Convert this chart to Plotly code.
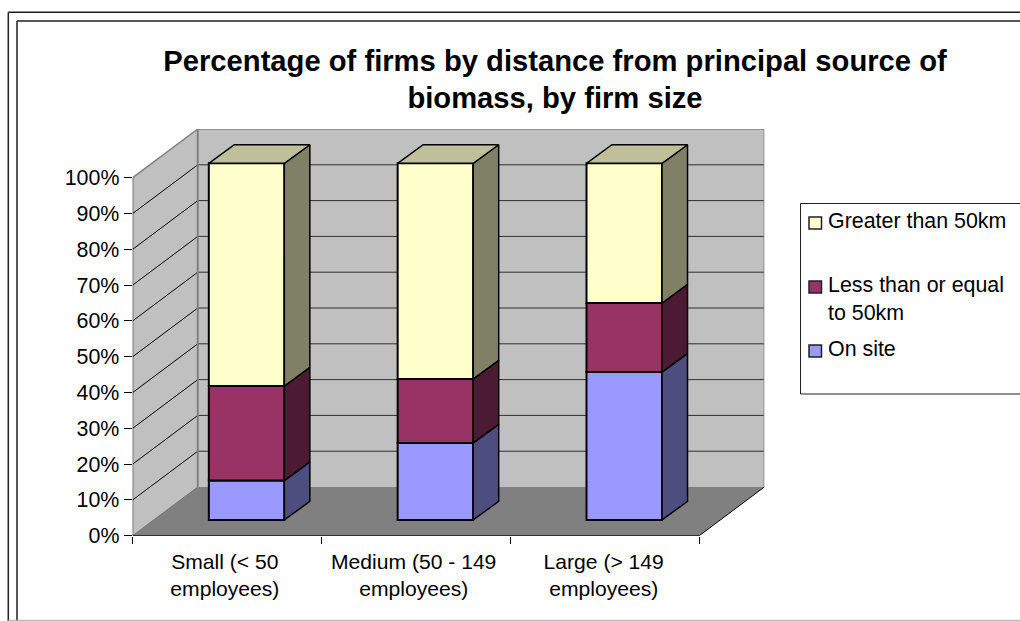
import plotly.graph_objects as go

# ---- data ----
categories = ["Small (< 50<br>employees)", "Medium (50 - 149<br>employees)", "Large (> 149<br>employees)"]
on_site = [11.0, 21.5, 41.3]
within_50km = [26.4, 17.9, 19.3]
beyond_50km = [62.2, 60.2, 39.0]
series_names = ["On site", "Less than or equal<br>to 50km", "Greater than 50km"]
y_ticks = [0, 10, 20, 30, 40, 50, 60, 70, 80, 90, 100]
y_labels = ["0%", "10%", "20%", "30%", "40%", "50%", "60%", "70%", "80%", "90%", "100%"]
title_text = "Percentage of firms by distance from principal source of<br>biomass, by firm size"

# ---- style ----
W, H = 1020, 621
FONT = "Liberation Sans"
front = ["#9999FF", "#993366", "#FFFFCC"]
side = ["#4D4D80", "#4D1A33", "#808066"]
top_col = "#BFBF99"
wall = "#C0C0C0"
floor = "#808080"
WALL_DX, WALL_DY = 0.3445, 13.6   # depth of the box, in axis units
BAR_DX, BAR_DY = 0.135, 5.2       # depth of a column
BAR_OX, BAR_OY = 0.103, 4.4       # column inset from the front edge
BAR_W = 0.4
XL, XR = -0.5, 2.5

xs = [i + BAR_OX for i in range(len(categories))]
fig = go.Figure()

# side faces, top faces
stack = [on_site, within_50km, beyond_50km]
bases = [[BAR_OY] * 3]
for s in stack:
    bases.append([b + v for b, v in zip(bases[-1], s)])

for k, s in enumerate(stack):
    for i, v in enumerate(s):
        xr = xs[i] + BAR_W / 2
        b = bases[k][i]
        fig.add_trace(go.Scatter(
            x=[xr, xr + BAR_DX, xr + BAR_DX, xr, xr],
            y=[b, b + BAR_DY, b + v + BAR_DY, b + v, b],
            mode="lines", fill="toself", fillcolor=side[k],
            line=dict(color="black", width=1.5), hoverinfo="skip", showlegend=False))
for i in range(3):
    xl, xr = xs[i] - BAR_W / 2, xs[i] + BAR_W / 2
    t = bases[3][i]
    fig.add_trace(go.Scatter(
        x=[xl, xr, xr + BAR_DX, xl + BAR_DX, xl],
        y=[t, t, t + BAR_DY, t + BAR_DY, t],
        mode="lines", fill="toself", fillcolor=top_col,
        line=dict(color="black", width=1.5), hoverinfo="skip", showlegend=False))

# front faces
for k, s in enumerate(stack):
    fig.add_trace(go.Bar(x=xs, y=s, base=bases[k], width=BAR_W, name=series_names[k],
                         marker=dict(color=front[k], line=dict(color="black", width=2)),
                         showlegend=False))

shapes = []
def poly(px, py, fill=None, color=None, width=1):
    path = "M" + "L".join(f"{a},{b}" for a, b in zip(px, py)) + "Z"
    shapes.append(dict(type="path", path=path, xref="x", yref="y", layer="below",
                       fillcolor=fill or "rgba(0,0,0,0)",
                       line=dict(color=color or "rgba(0,0,0,0)", width=width)))
def seg(x0, y0, x1, y1, color="black", width=1):
    shapes.append(dict(type="line", x0=x0, y0=y0, x1=x1, y1=y1, xref="x", yref="y",
                       layer="below", line=dict(color=color, width=width)))

bx0, bx1 = XL + WALL_DX, XR + WALL_DX
poly([XL, bx0, bx0, XL], [0, WALL_DY, 100 + WALL_DY, 100], fill=wall)
poly([bx0, bx1, bx1, bx0], [WALL_DY, WALL_DY, 100 + WALL_DY, 100 + WALL_DY], fill=wall)
poly([XL, XR, bx1, bx0], [0, 0, WALL_DY, WALL_DY], fill=floor)
for v in y_ticks[1:-1]:
    seg(XL, v, bx0, v + WALL_DY)
    seg(bx0, v + WALL_DY, bx1, v + WALL_DY, color="#303030")
seg(XL, 100, bx0, 100 + WALL_DY, "#808080", 1.5)
seg(bx0, 100 + WALL_DY, bx1, 100 + WALL_DY, "#808080", 1.5)
seg(bx1, WALL_DY, bx1, 100 + WALL_DY, "#808080", 1.5)
seg(bx0, WALL_DY, bx0, 100 + WALL_DY, "#808080", 2)
seg(XL, 0, bx0, WALL_DY, "#707070", 1)
seg(XR, 0, bx1, WALL_DY, "black", 1)
seg(XL, 0, XL, 100, "black", 1)
seg(XL, 0, XR, 0, "black", 1.5)

# page frame and legend box (pixel coordinates converted to paper fractions)
def fx(p): return p / W
def fy(p): return 1 - p / H
def pseg(x0, y0, x1, y1, color="#202020", width=1.5):
    shapes.append(dict(type="line", xref="paper", yref="paper", x0=fx(x0), y0=fy(y0),
                       x1=fx(x1), y1=fy(y1), line=dict(color=color, width=width)))
pseg(8.3, 12.3, 8.3, 621)
pseg(8.3, 12.3, 1020, 12.3)
pseg(17, 21, 17, 621)
pseg(17, 21, 1020, 21)
pseg(8, 620.3, 1020, 620.3, "#B0B0B0", 1)
pseg(800.5, 203.5, 1020, 203.5, "#202020", 1)
pseg(800.5, 203.5, 800.5, 394, "#202020", 1)
pseg(800.5, 394, 1020, 394, "#202020", 1)

# legend
annotations = []
legend_rows = [(2, 223, 221), (1, 287, 299), (0, 351, 349)]
for k, sy, ty in legend_rows:
    shapes.append(dict(type="rect", xref="paper", yref="paper",
                       x0=fx(809), x1=fx(821.5), y0=fy(sy - 6), y1=fy(sy + 6),
                       fillcolor=front[k], line=dict(color="#202020", width=1.5)))
    annotations.append(dict(text=series_names[k], xref="paper", yref="paper", x=fx(826), y=fy(ty),
                            xanchor="left", yanchor="middle", align="left", showarrow=False,
                            font=dict(family=FONT, size=21.4, color="black")))

fig.update_layout(
    template="none",
    width=W, height=H, autosize=False, showlegend=False,
    margin=dict(l=0, r=0, t=0, b=0, pad=0),
    paper_bgcolor="white", plot_bgcolor="rgba(0,0,0,0)",
    barmode="overlay",
    font=dict(family=FONT, size=21.4, color="black"),
    title=dict(text=title_text, x=555 / W, xanchor="center", xref="paper",
               y=fy(70.5), yanchor="middle", yref="paper",
               font=dict(family=FONT, size=29.2, color="black", weight="bold")),
    xaxis=dict(domain=[fx(132.7), fx(764.3)], range=[XL, XR + WALL_DX], automargin=False,
               tickmode="array", tickvals=[-0.012, 0.988, 1.994], ticktext=categories,
               tickfont=dict(family=FONT, size=21.1, color="black"),
               ticks="", showgrid=False, zeroline=False, showline=False,
               ticklabelstandoff=11,
               minor=dict(tickvals=[-0.5, 0.5, 1.5, 2.5], ticks="outside", ticklen=7,
                          tickcolor="black", tickwidth=1, showgrid=False)),
    yaxis=dict(domain=[fy(535.7), fy(129)], range=[0, 113.6], automargin=False,
               tickmode="array", tickvals=y_ticks, ticktext=y_labels,
               ticks="outside", ticklen=8, tickcolor="black", tickwidth=1,
               showgrid=False, zeroline=False, showline=False),
    shapes=shapes, annotations=annotations,
)

fig.write_html("out.html", config=dict(displayModeBar=False),
               post_script="document.body.style.margin='0';")
